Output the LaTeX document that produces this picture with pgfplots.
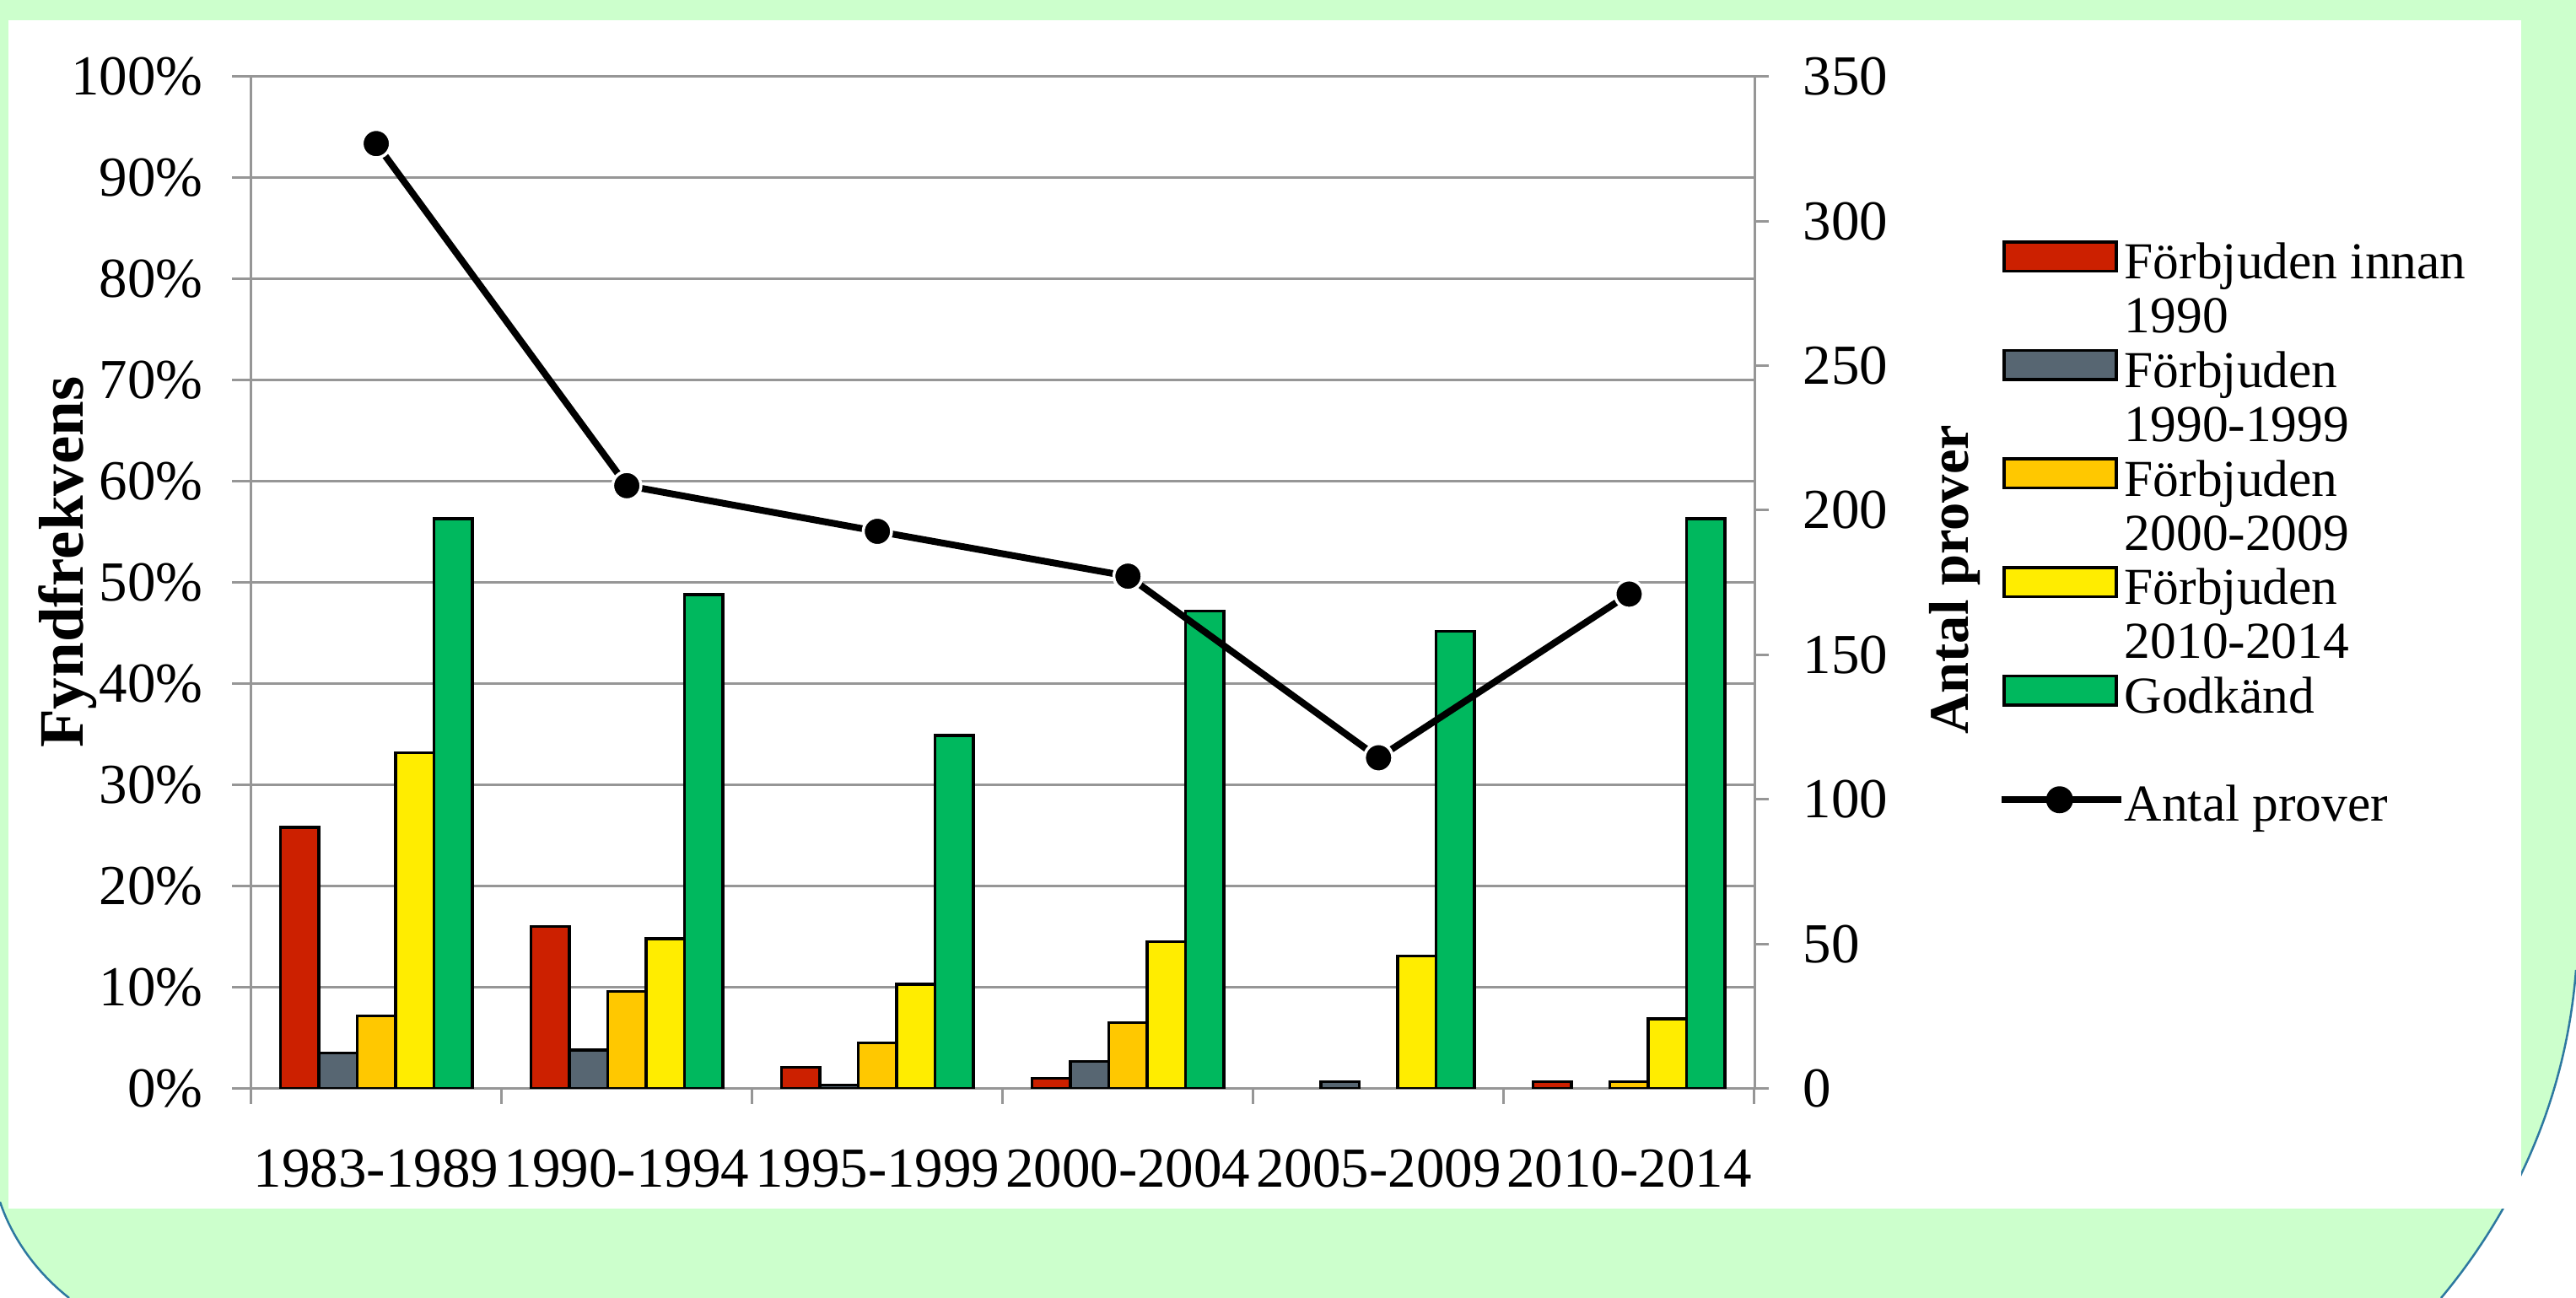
\documentclass[border=0pt]{standalone}
\usepackage{pgfplots}
\pgfplotsset{compat=1.18}
\usepackage{fontspec}
\setmainfont{Liberation Serif}
\definecolor{cRed}{RGB}{204,32,0}
\definecolor{cGray}{RGB}{87,102,114}
\definecolor{cOrange}{RGB}{255,200,0}
\definecolor{cYellow}{RGB}{255,237,0}
\definecolor{cGreen}{RGB}{0,184,94}
\definecolor{bgGreen}{RGB}{204,255,204}
\definecolor{gridgray}{RGB}{150,150,150}
\definecolor{curveBlue}{RGB}{45,120,160}
\protected\long\def\LE#1#2{\parbox[t]{90pt}{\strut #1\par\strut #2}}
\begin{document}
\begin{tikzpicture}
\useasboundingbox (-59.5pt,-49.66pt) rectangle (551.3pt,258.14pt);
\fill[white] (-59.5pt,-49.66pt) rectangle (551.3pt,258.14pt);
\fill[bgGreen] (-59.5pt,258.14pt) -- (551.3pt,258.14pt) -- (551.3pt,28.14pt) .. controls (548.5pt,-7.86pt) and (532.5pt,-33.86pt) .. (519.3pt,-49.66pt) -- (-43.1pt,-49.66pt) .. controls (-50.5pt,-43.86pt) and (-56.5pt,-35.86pt) .. (-59.5pt,-26.86pt) -- cycle;
\draw[curveBlue, line width=0.5pt] (551.3pt,28.14pt) .. controls (548.5pt,-7.86pt) and (532.5pt,-33.86pt) .. (519.3pt,-49.66pt);
\draw[curveBlue, line width=0.5pt] (-43.1pt,-49.66pt) .. controls (-50.5pt,-43.86pt) and (-56.5pt,-35.86pt) .. (-59.5pt,-26.86pt);
\fill[white] (-57.5pt,-28.46pt) rectangle (538.3pt,253.34pt);

\begin{axis}[
  at={(0pt,0pt)}, anchor=south west,
  scale only axis, width=356.5pt, height=240pt,
  xmin=-0.5, xmax=5.5, ymin=0, ymax=100,
  ybar=0pt, bar width=9.1pt,
  axis x line*=bottom, axis y line*=left,
  axis line style={-, draw=gridgray, line width=0.6pt},
  tick align=outside,
  major tick length=4.4pt, minor tick length=3.6pt,
  tick style={gridgray, line width=0.6pt},
  xtick={0,1,2,3,4,5},
  xticklabels={1983-1989,1990-1994,1995-1999,2000-2004,2005-2009,2010-2014},
  major x tick style={draw=none},
  minor xtick={-0.5,0.5,1.5,2.5,3.5,4.5,5.5},
  ytick={0,10,20,30,40,50,60,70,80,90,100},
  yticklabels={0\%,10\%,20\%,30\%,40\%,50\%,60\%,70\%,80\%,90\%,100\%},
  ymajorgrids, grid style={gridgray, line width=0.6pt},
  tick label style={font=\fontsize{13.4}{16}\selectfont},
  yticklabel style={anchor=east, inner sep=0pt, xshift=-6.8pt},
  xticklabel style={anchor=north, inner sep=0pt, yshift=-9.8pt},
  ylabel={Fyndfrekvens},
  every axis y label/.style={at={(rel axis cs:-0.122,0.52)}, rotate=90, anchor=center, font=\bfseries\fontsize{15}{18}\selectfont},
  legend style={at={(1.162,0.838)}, anchor=north west, draw=none, fill=none,
    inner sep=0pt, outer sep=0pt, row sep=0pt, column sep=0pt,
    cells={anchor=base west, inner sep=0pt, outer sep=0pt}, nodes={inner sep=0pt, outer sep=0pt},
    font=\fontsize{12.3}{12.76}\selectfont},
  legend image code/.code={\path[draw=none,fill=none] (0pt,-16.59pt) (0pt,8.93pt); \draw[#1] (0pt,1.9pt) rectangle (26.6pt,8.8pt);},
]
\addplot[fill=cRed, draw=black, line width=0.7pt] coordinates {(0,25.8) (1,16.0) (2,2.1) (3,1.0) (5,0.7)};
\addlegendentry{\LE{Förbjuden innan}{1990}}
\addplot[fill=cGray, draw=black, line width=0.7pt] coordinates {(0,3.5) (1,3.8) (2,0.35) (3,2.7) (4,0.7)};
\addlegendentry{\LE{Förbjuden}{1990-1999}}
\addplot[fill=cOrange, draw=black, line width=0.7pt] coordinates {(0,7.2) (1,9.6) (2,4.5) (3,6.5) (5,0.7)};
\addlegendentry{\LE{Förbjuden}{2000-2009}}
\addplot[fill=cYellow, draw=black, line width=0.7pt] coordinates {(0,33.2) (1,14.8) (2,10.3) (3,14.5) (4,13.1) (5,6.9)};
\addlegendentry{\LE{Förbjuden}{2010-2014}}
\addplot[fill=cGreen, draw=black, line width=0.7pt] coordinates {(0,56.3) (1,48.8) (2,34.9) (3,47.2) (4,45.2) (5,56.3)};
\addlegendentry{\LE{Godkänd}{}}
\addlegendimage{legend image code/.code={\path[draw=none,fill=none] (0pt,-3.83pt) (0pt,8.93pt); \draw[black, line width=1.6pt] (-0.6pt,5pt) -- (27.8pt,5pt); \fill[black] (13.2pt,5pt) circle (3pt);}}
\addlegendentry{\strut Antal prover}
\end{axis}

\begin{axis}[
  at={(0pt,0pt)}, anchor=south west,
  scale only axis, width=356.5pt, height=240pt,
  xmin=-0.5, xmax=5.5, ymin=0, ymax=350,
  axis x line=none, axis y line*=right,
  axis line style={-, draw=gridgray, line width=0.6pt},
  tick align=outside, major tick length=3.4pt,
  tick style={gridgray, line width=0.6pt},
  ytick={0,50,100,150,200,250,300,350},
  /pgf/number format/assume math mode=true,
  tick label style={font=\fontsize{13.4}{16}\selectfont},
  yticklabel style={anchor=west, inner sep=0pt, xshift=7.9pt},
  ylabel={Antal prover},
  every axis y label/.style={at={(rel axis cs:1.133,0.503)}, rotate=90, anchor=center, font=\bfseries\fontsize{13.3}{16}\selectfont},
]
\addplot[black, line width=1.6pt, mark=*, mark size=3.35pt, mark options={fill=black, draw=white, line width=0.7pt}] coordinates {(0,326.8) (1,208.5) (2,192.7) (3,177.2) (4,114.4) (5,171)};
\end{axis}
\end{tikzpicture}
\end{document}
